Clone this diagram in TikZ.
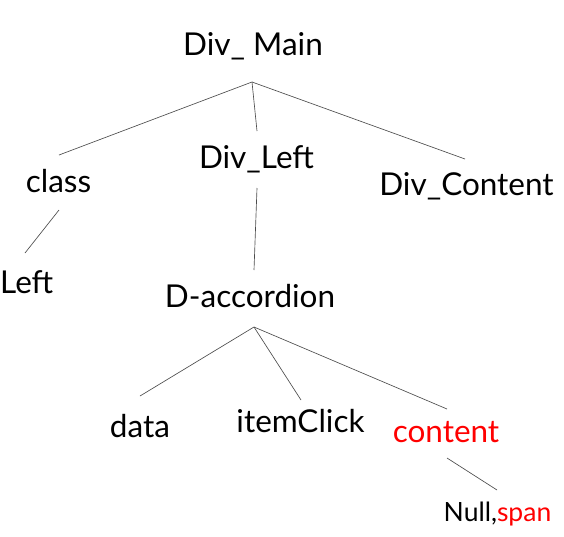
\documentclass[tikz,border=0pt]{standalone}
\usepackage{fontspec}
\setmainfont{Lato}
\begin{document}
\begin{tikzpicture}[x=1pt,y=-1pt,
  lbl/.style={anchor=base,inner sep=0pt,font=\fontsize{31.5}{34}\selectfont},
  small/.style={anchor=base,inner sep=0pt,font=\fontsize{26.5}{29}\selectfont},
  conn/.style={draw=black!70,line width=0.65pt}]
\useasboundingbox (0,0) rectangle (564,536);
% nodes
\node[lbl] (main) at (253,55) {Div\_ Main};
\node[lbl] (class) at (58.5,192) {class};
\node[lbl] (divleft) at (256.5,168) {Div\_Left};
\node[lbl] (divcontent) at (466.5,195) {Div\_Content};
\node[lbl,anchor=base west] (left) at (0,293) {Left};
\node[lbl] (dacc) at (250,307) {D-accordion};
\node[lbl] (data) at (140,437) {data};
\node[lbl] (itemclick) at (300.5,432) {itemClick};
\node[lbl,text=red] (content) at (446,442) {content};
\node[small] (null) at (497.5,521) {Null,\textcolor{red}{span}};
% connector ends
\coordinate (mainB) at (252,82);
\coordinate (classT) at (59,155);
\coordinate (classB) at (59,210);
\coordinate (leftT) at (25,253);
\coordinate (divleftT) at (257,131);
\coordinate (divleftB) at (257,188);
\coordinate (daccT) at (254,270);
\coordinate (divcontentT) at (465,159);
\coordinate (daccB) at (254,327);
\coordinate (dataT) at (140,396);
\coordinate (itemclickT) at (301,400);
\coordinate (contentT) at (447,409);
\coordinate (contentB) at (447,458);
\coordinate (nullT) at (497,490);
% connectors
\draw[conn] (mainB) -- (classT);
\draw[conn] (mainB) -- (divleftT);
\draw[conn] (mainB) -- (divcontentT);
\draw[conn] (classB) -- (leftT);
\draw[conn] (divleftB) -- (daccT);
\draw[conn] (daccB) -- (dataT);
\draw[conn] (daccB) -- (itemclickT);
\draw[conn] (daccB) -- (contentT);
\draw[conn] (contentB) -- (nullT);
\end{tikzpicture}
\end{document}
